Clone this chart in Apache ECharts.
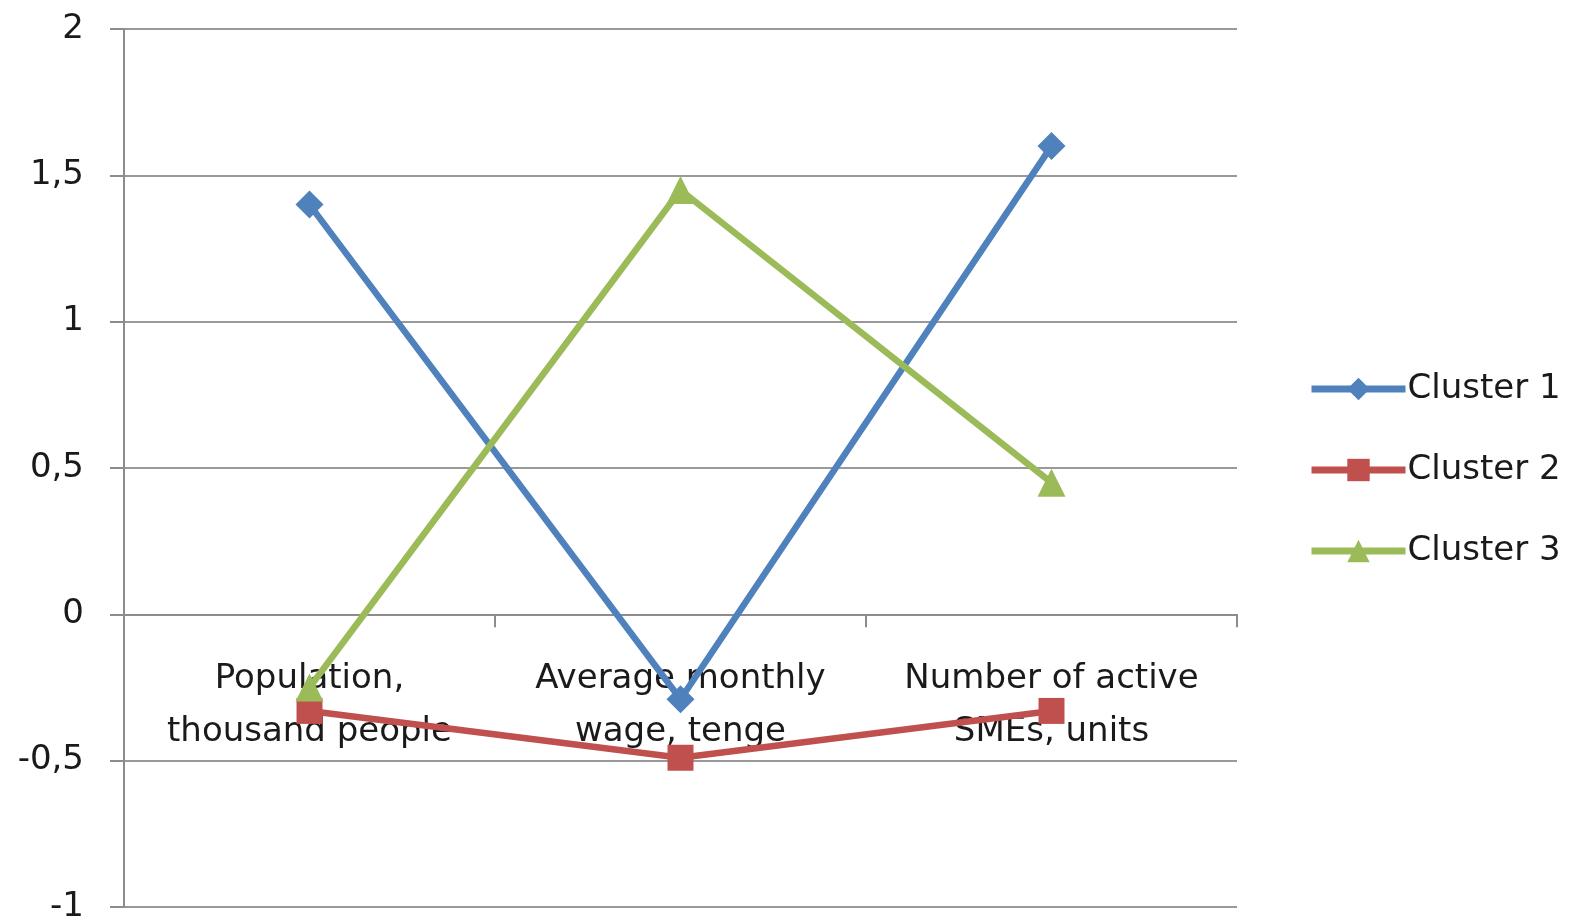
<!DOCTYPE html>
<html><head><meta charset="utf-8">
<script src="https://cdn.jsdelivr.net/npm/echarts@6/dist/echarts.min.js"></script>
<style>html,body{margin:0;padding:0;background:#fff}#c{width:1570px;height:921px}</style>
</head><body><div id="c"></div>
<script>
const categories = ["Population,\nthousand people", "Average monthly\nwage, tenge", "Number of active\nSMEs, units"];
const cluster1 = [1.4, -0.29, 1.6];
const cluster2 = [-0.33, -0.49, -0.33];
const cluster3 = [-0.25, 1.45, 0.45];
const seriesNames = ["Cluster 1", "Cluster 2", "Cluster 3"];
const yMin = -1, yMax = 2;

const FONT = "DejaVu Sans";
const W = 1570, H = 921, TOP = 29, BOTTOM = 14;
const zeroOffset = (H - TOP - BOTTOM) * (0 - yMin) / (yMax - yMin);
const chart = echarts.init(document.getElementById('c'), null, {renderer: 'canvas'});
function mk(name, data, color, symbol, size) {
  return {
    name, type: 'line', data, symbol, symbolSize: size,
    lineStyle: {color, width: 6.5}, itemStyle: {color},
    emphasis: {disabled: true}, z: 3
  };
}
chart.setOption({
  animation: false,
  grid: {left: 124, right: 333, top: TOP, bottom: BOTTOM, containLabel: false, outerBoundsMode: 'none'},
  legend: {
    orient: 'vertical', left: 1303, top: 366,
    itemWidth: 94, itemHeight: 28, itemGap: 45,
    lineStyle: {width: 7},
    textStyle: {fontFamily: FONT, fontSize: 34, color: '#1a1a1a', lineHeight: 36, padding: [0, 0, 0, -3]},
    data: seriesNames
  },
  xAxis: {
    type: 'category', data: categories, boundaryGap: true,
    offset: -zeroOffset,
    axisLine: {onZero: false, lineStyle: {color: '#8c8c8c', width: 2}},
    axisTick: {show: true, length: 13, alignWithLabel: false, lineStyle: {color: '#8c8c8c', width: 2}},
    axisLabel: {fontFamily: FONT, fontSize: 34, color: '#1a1a1a', lineHeight: 53, margin: 38, interval: 0}
  },
  yAxis: {
    type: 'value', min: yMin, max: yMax, interval: 0.5,
    axisLine: {show: true, lineStyle: {color: '#8c8c8c', width: 2}},
    axisTick: {show: true, length: 14, lineStyle: {color: '#8c8c8c', width: 2}},
    splitLine: {show: true, lineStyle: {color: '#999', width: 2}},
    axisLabel: {fontFamily: FONT, fontSize: 34, color: '#1a1a1a', margin: 40,
      formatter: v => String(v).replace('.', ',')}
  },
  series: [
    mk(seriesNames[0], cluster1, '#4F81BD', 'diamond', 28),
    mk(seriesNames[1], cluster2, '#C0504D', 'rect', 26),
    mk(seriesNames[2], cluster3, '#9BBB59', 'triangle', 28)
  ]
});
</script></body></html>
